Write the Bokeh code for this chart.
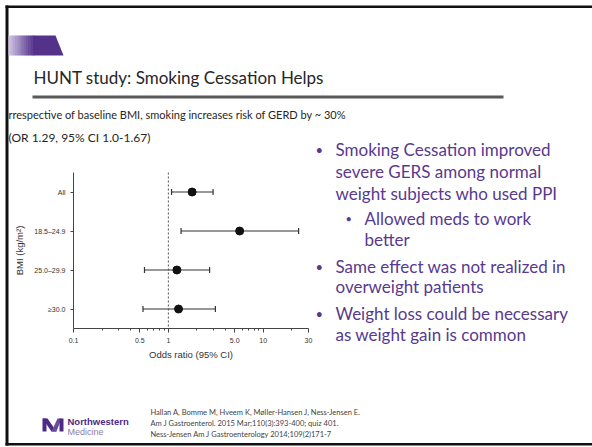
from bokeh.plotting import figure
from bokeh.models import (Range1d, FixedTicker, Label, LinearAxis, LogAxis, LogScale,
                          LinearScale)
from bokeh.embed import file_html
from bokeh.resources import INLINE
import math

# ---------------- data ----------------
categories = ["All", "18.5–24.9", "25.0–29.9", "≥30.0"]
odds_ratio = [1.78, 5.64, 1.23, 1.28]
ci_lower = [1.08, 1.36, 0.56, 0.54]
ci_upper = [2.96, 23.6, 2.72, 3.13]
x_major_ticks = [0.1, 0.5, 1, 5, 10, 30]
x_major_labels = ["0.1", "0.5", "1", "5.0", "10", "30"]
x_minor_ticks = [0.2, 0.3, 0.4, 0.6, 0.7, 0.8, 0.9, 2, 3, 4, 6, 7, 8, 9, 20]
reference_line = 1

title_text = "HUNT study: Smoking Cessation Helps"
intro_lines = ["rrespective of baseline BMI, smoking increases risk of GERD by ~ 30%",
               "(OR 1.29, 95% CI 1.0-1.67)"]
bullets = [  # (level, lines)
    (0, ["Smoking Cessation improved", "severe GERS among normal", "weight subjects who used PPI"]),
    (1, ["Allowed meds to work", "better"]),
    (0, ["Same effect was not realized in", "overweight patients"]),
    (0, ["Weight loss could be necessary", "as weight gain is common"]),
]
references = ["Hallan A, Bomme M, Hveem K, Møller-Hansen J, Ness-Jensen E.",
              "Am J Gastroenterol. 2015 Mar;110(3):393-400; quiz 401.",
              "Ness-Jensen Am J Gastroenterology 2014;109(2)171-7"]

# ---------------- layout ----------------
W, H = 592, 447
FL, FR, FT, FB = 73, 308, 172, 328       # forest-plot area in slide pixels
XMIN, XMAX = 0.1, 30
n_cat = len(categories)

ppd = (FR - FL) / math.log10(XMAX / XMIN)
or_start = 10 ** (math.log10(XMIN) - FL / ppd)
or_end = 10 ** (math.log10(XMIN) + (W - FL) / ppd)
row_h = (FB - FT) / n_cat
y0_px = FT + row_h / 2
bmi_top = (0 - y0_px) / row_h
bmi_bottom = (H - y0_px) / row_h

p = figure(width=W, height=H, x_range=Range1d(0, W), y_range=Range1d(H, 0),
           x_axis_location=None, y_axis_location=None,
           output_backend="svg", toolbar_location=None, min_border=0)
p.min_border_left = p.min_border_right = p.min_border_top = p.min_border_bottom = 0
p.outline_line_color = None
p.background_fill_color = "white"
p.border_fill_color = "white"
p.grid.visible = False
p.extra_x_ranges = {"or": Range1d(or_start, or_end)}
p.extra_x_scales = {"or": LogScale()}
p.extra_y_ranges = {"bmi": Range1d(bmi_bottom, bmi_top)}
p.extra_y_scales = {"bmi": LinearScale()}

CHART_FONT = "Liberation Sans"
def style_axis(ax):
    ax.axis_line_color = "#444444"
    ax.major_tick_line_color = "#444444"
    ax.minor_tick_line_color = "#444444"
    ax.major_label_text_font = CHART_FONT
    ax.major_label_text_font_size = "7px"
    ax.major_label_text_color = "#333333"
    ax.axis_label_text_font = CHART_FONT
    ax.axis_label_text_font_size = "9.5px"
    ax.axis_label_text_font_style = "normal"
    ax.axis_label_text_color = "#333333"
    ax.major_tick_in = 0
    ax.minor_tick_in = 0

y_pos = list(range(n_cat))
xaxis = LogAxis(x_range_name="or", y_range_name="bmi", fixed_location=n_cat - 0.5,
                bounds=(XMIN, XMAX), axis_label="Odds ratio (95% CI)",
                ticker=FixedTicker(ticks=x_major_ticks, minor_ticks=x_minor_ticks),
                major_label_overrides={t: l for t, l in zip(x_major_ticks, x_major_labels)})
style_axis(xaxis)
xaxis.major_tick_out = 4
xaxis.minor_tick_out = 2
xaxis.axis_label_standoff = 3
p.add_layout(xaxis, "below")

yaxis = LinearAxis(x_range_name="or", y_range_name="bmi", fixed_location=XMIN,
                   bounds=(-0.5, n_cat - 0.5), axis_label="BMI (kg/m²)",
                   ticker=FixedTicker(ticks=y_pos, minor_ticks=[]),
                   major_label_overrides={i: c for i, c in zip(y_pos, categories)})
style_axis(yaxis)
yaxis.major_tick_out = 3
yaxis.minor_tick_out = 0
yaxis.axis_label_standoff = 6
p.add_layout(yaxis, "left")

p.segment(x0=[reference_line], y0=[-0.5], x1=[reference_line], y1=[n_cat - 0.5],
          x_range_name="or", y_range_name="bmi",
          line_color="#555555", line_dash="2 2", line_width=1)
p.segment(x0=ci_lower, y0=y_pos, x1=ci_upper, y1=y_pos, x_range_name="or", y_range_name="bmi",
          line_color="#333333", line_width=1.2)
p.scatter(x=ci_lower + ci_upper, y=y_pos + y_pos, marker="dash", angle=math.pi / 2, size=6,
          line_color="#333333", line_width=1.2, x_range_name="or", y_range_name="bmi")
p.scatter(x=odds_ratio, y=y_pos, marker="circle", size=8, fill_color="#111111",
          line_color="#111111", x_range_name="or", y_range_name="bmi")

# ---------------- slide decorations (slide pixel coordinates) ----------------
def box(l, r, t, b, color):
    p.quad(left=[l], right=[r], top=[t], bottom=[b], fill_color=color, line_color=None)

def poly(xs, ys, color):
    p.patch(x=xs, y=ys, fill_color=color, line_color=None)

def text(x, y, s, size, color, font="Lato", style="normal", align="left"):
    p.add_layout(Label(x=x, y=y, text=s, text_font=font, text_font_size=size,
                       text_color=color, text_font_style=style, text_align=align,
                       text_baseline="middle"))

# frame of the slide
box(5, 8, 5, 445, "#111111")
box(5, W, 5, 7.5, "#111111")
box(5, W, 442.5, 445, "#111111")

# purple gradient tab
c0 = (205, 193, 226)
c1 = (84, 50, 138)
n = 12
x_start, x_end = 8, 34
for i in range(n):
    t = i / (n - 1)
    col = "#%02x%02x%02x" % tuple(int(round(a + (b - a) * t)) for a, b in zip(c0, c1))
    xa = x_start + (x_end - x_start) * i / n
    xb = x_start + (x_end - x_start) * (i + 1) / n + 0.5
    box(xa, xb, 35, 55, col)
poly([x_end, 55, 63, x_end], [35, 35, 55, 55], "#54328a")

# title and rule
text(33, 77, title_text, "17px", "#262626")
box(32, 503, 95, 98, "#595959")

# intro lines
text(8, 114, intro_lines[0], "11px", "#262626")
text(8, 137, intro_lines[1], "12px", "#262626")

# bullets
PURPLE = "#58398f"
centers = [[149, 171, 193], [218, 239], [266, 286], [313, 334]]
for (level, lines), cl in zip(bullets, centers):
    bx, tx = (315, 335) if level == 0 else (345, 364)
    text(bx, cl[0], "•", "13px" if level == 0 else "11px", PURPLE)
    for ln, y in zip(lines, cl):
        text(tx, y, ln, "17px", PURPLE)

# footer: logo and references
NW = "#4e2a84"
poly([42, 46, 46, 42], [418, 418, 431, 431], NW)
poly([42, 47, 56, 51], [418, 418, 431, 431], NW)
poly([51, 56, 61, 57], [431, 431, 418, 418], "#6a4c9c")
poly([59, 63, 63, 59], [418, 418, 431, 431], NW)
text(67, 421, "Northwestern", "9.5px", NW, font=CHART_FONT, style="bold")
text(67, 431, "Medicine", "9px", "#8c80aa", font=CHART_FONT)

for ln, y in zip(references, [412, 423, 434]):
    text(150, y, ln, "7.5px", "#444444")

open("out.html", "w").write(file_html(p, INLINE))
